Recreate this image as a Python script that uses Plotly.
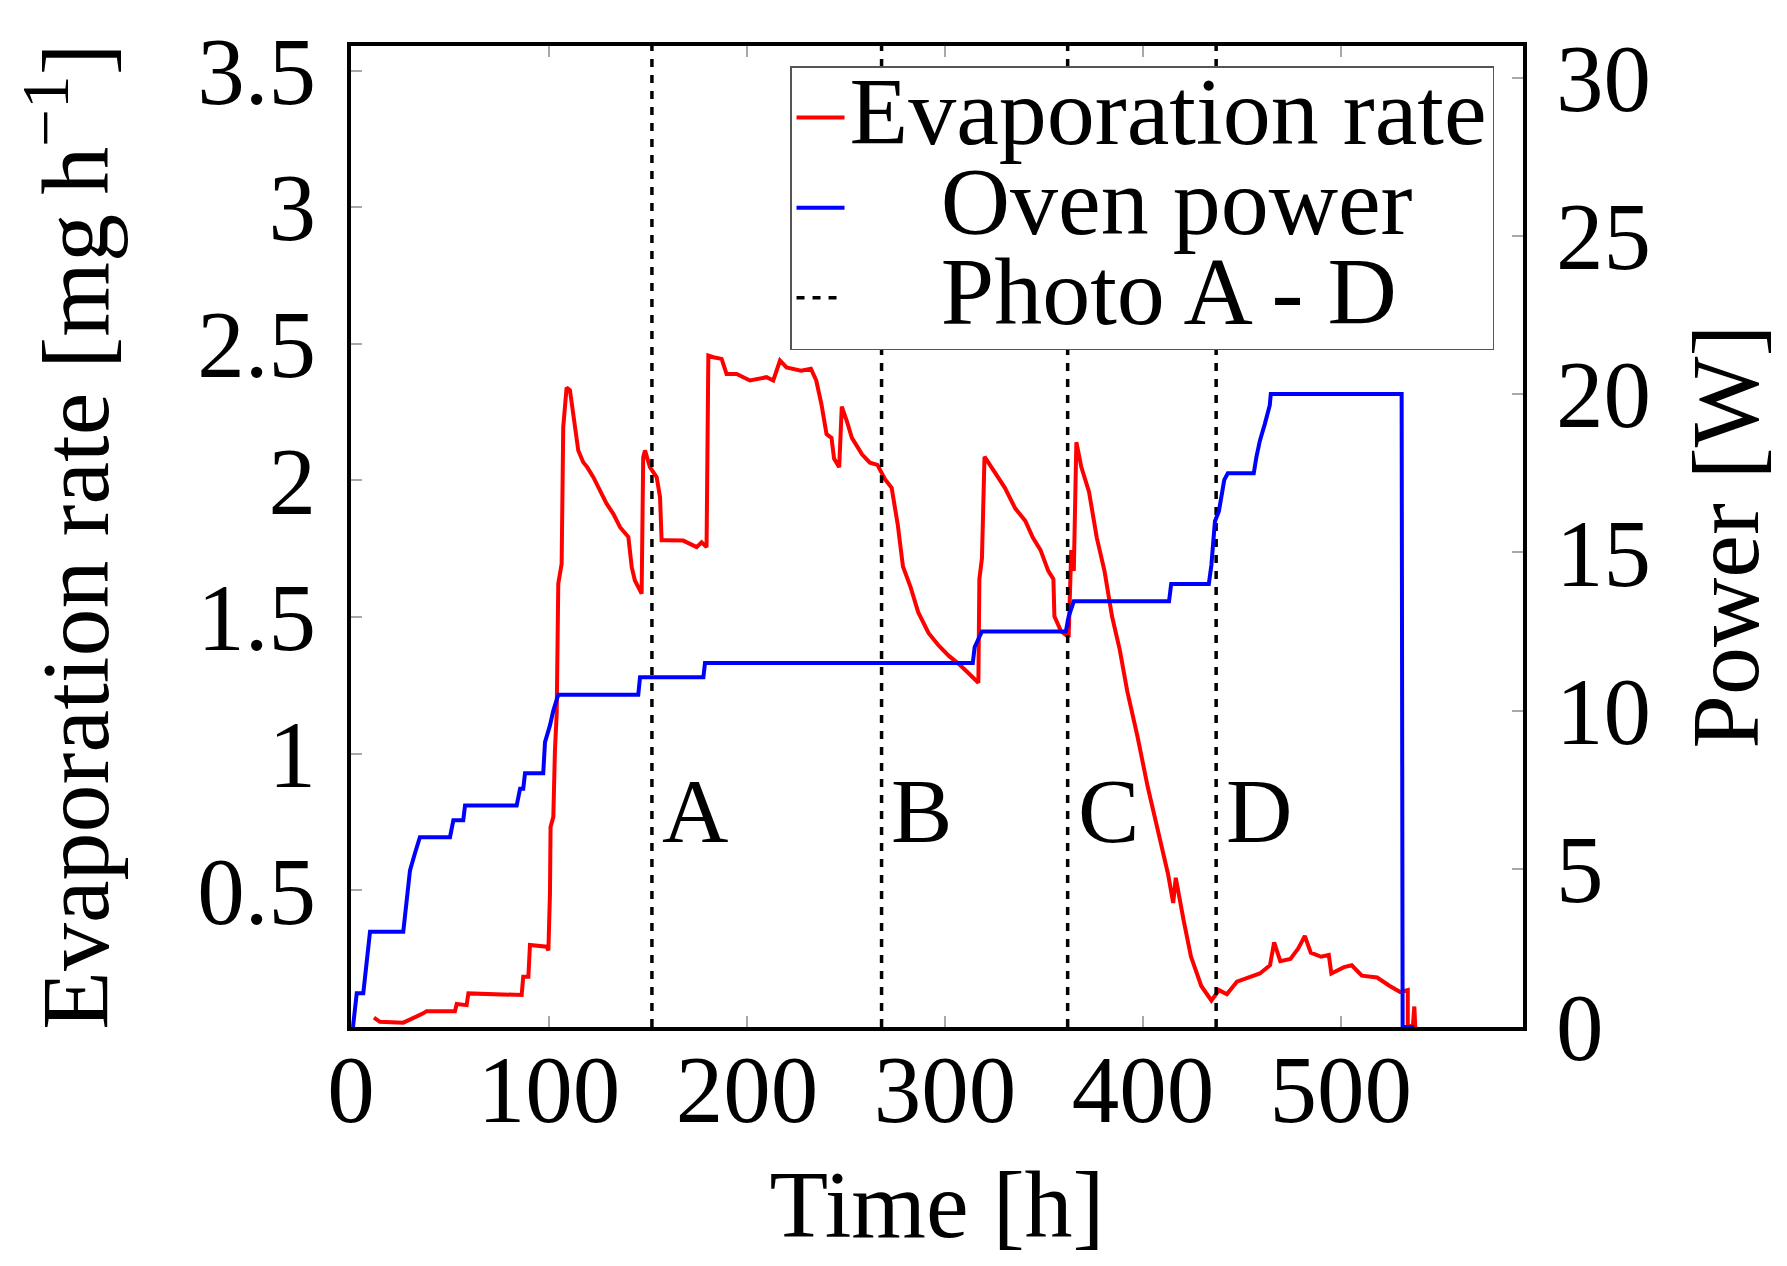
import plotly.graph_objects as go

# ---------------- data ----------------
power_t = [1.0, 2.9, 6.2, 7.9, 9.6, 26.4, 27.3, 28.1, 29.8, 32.3, 34.8, 50.0, 51.7, 56.7, 57.6,
           83.7, 85.4, 87.0, 87.9, 97.1, 98.0, 100.5, 102.2, 104.7, 145.1, 146.0, 178.0, 178.8,
           314.1, 315.0, 318.7, 361.1, 362.5, 365.1, 413.2, 414.3, 433.3, 434.6, 436.4, 438.4,
           441.1, 442.9, 456.0, 457.3, 459.1, 461.6, 464.1, 464.6, 530.7, 531.2, 537.0]
power_w = [0.0, 1.07, 1.07, 2.01, 3.01, 3.01, 3.53, 4.0, 4.95, 5.49, 6.0, 6.0, 6.53, 6.53, 7.0,
           7.0, 7.53, 7.53, 8.02, 8.02, 9.0, 9.53, 10.0, 10.5, 10.5, 11.05, 11.05, 11.5,
           11.5, 12.0, 12.5, 12.5, 12.97, 13.45, 13.45, 14.0, 14.0, 14.6, 15.98, 16.3,
           17.29, 17.5, 17.5, 18.0, 18.53, 19.06, 19.65, 20.0, 20.0, 0.0, 0.0]

evap_t = [11.6, 14.6, 26.4, 31.5, 36.5, 38.2, 52.5, 53.4, 58.4, 59.3, 86.2, 87.0, 89.6, 90.4,
          98.8, 99.7, 100.5, 100.8, 102.2, 103.0, 103.9, 104.7, 106.4, 107.2, 108.9, 110.6,
          112.3, 114.8, 117.3, 119.3, 122.4, 125.8, 129.1, 132.5, 135.9, 140.1, 141.8, 143.4,
          146.8, 147.6, 148.5, 151.0, 154.4, 156.1, 156.9, 159.4, 167.8, 174.6, 177.1, 179.6,
          180.5, 183.0, 187.2, 189.7, 194.8, 201.5, 209.9, 213.3, 216.7, 220.0, 227.3, 232.3,
          235.0, 237.6, 240.2, 242.7, 244.0, 246.6, 247.9, 250.5, 253.0, 258.2, 262.1, 265.9,
          269.8, 273.1, 276.2, 278.8, 282.7, 286.5, 291.7, 296.8, 302.0, 307.1, 312.3, 316.9,
          317.4, 318.7, 320.0, 325.2, 330.3, 335.5, 340.6, 344.4, 348.3, 352.2, 354.8, 355.3,
          358.6, 362.5, 363.8, 365.1, 366.4, 368.9, 372.8, 376.7, 380.6, 384.4, 388.3, 392.1,
          397.3, 402.4, 407.6, 412.7, 415.3, 416.6, 420.5, 424.3, 429.5, 434.6, 438.5, 442.4,
          447.5, 453.9, 459.1, 464.2, 466.3, 469.4, 474.5, 478.4, 481.8, 484.8, 490.0, 493.9,
          495.2, 501.6, 505.5, 510.6, 518.3, 524.7, 530.0, 533.8, 533.8, 536.4, 537.1, 537.6]
evap_rate = [0.034, 0.019, 0.016, 0.032, 0.05, 0.058, 0.058, 0.084, 0.08, 0.123, 0.117, 0.184, 0.184, 0.30,
             0.294, 0.28, 0.489, 0.732, 0.769, 1.01, 1.147, 1.622, 1.695, 2.195, 2.34, 2.33,
             2.23, 2.11, 2.067, 2.049, 2.012, 1.963, 1.915, 1.878, 1.829, 1.793, 1.683, 1.634,
             1.586, 2.085, 2.11, 2.049, 2.012, 1.939, 1.781, 1.781, 1.78, 1.756, 1.774, 1.756,
             2.457, 2.451, 2.445, 2.39, 2.39, 2.366, 2.378, 2.366, 2.439, 2.414, 2.402, 2.409,
             2.366, 2.28, 2.17, 2.156, 2.08, 2.049, 2.27, 2.216, 2.156, 2.095, 2.065, 2.057,
             2.004, 1.973, 1.837, 1.685, 1.609, 1.518, 1.442, 1.396, 1.358, 1.328, 1.29, 1.26,
             1.639, 1.715, 2.087, 2.027, 1.973, 1.898, 1.852, 1.791, 1.745, 1.669, 1.639, 1.503,
             1.449, 1.427, 1.745, 1.669, 2.14, 2.049, 1.958, 1.791, 1.669, 1.503, 1.381, 1.229,
             1.062, 0.88, 0.713, 0.56, 0.454, 0.546, 0.393, 0.257, 0.15, 0.097, 0.135, 0.12,
             0.166, 0.181, 0.196, 0.226, 0.31, 0.241, 0.249, 0.287, 0.333, 0.272, 0.257, 0.264,
             0.196, 0.219, 0.226, 0.188, 0.181, 0.15, 0.128, 0.135, 0.0, 0.006, 0.075, 0.0]

photo_times = [152, 268, 362, 437]
photo_labels = ["A", "B", "C", "D"]

x_ticks = [0, 100, 200, 300, 400, 500]
y_ticks = [0.5, 1, 1.5, 2, 2.5, 3, 3.5]
y2_ticks = [0, 5, 10, 15, 20, 25, 30]

X_MAX = 592
Y_MAX = 3.59
Y2_MAX = 31.0

# ---------------- figure ----------------
FONT = "Liberation Serif"
BIG = 92
TITLE = 96
TICK = 95
LEG = 96

def leg(name):
    return '<span style="font-size:%dpx">%s</span>' % (LEG, name)

PAD = "\u00a0\u00a0\u00a0\u2009"

fig = go.Figure()

fig.add_trace(go.Scatter(x=evap_t, y=evap_rate, mode="lines", name=leg("Evaporation rate"),
                         line=dict(color="#ff0000", width=4), yaxis="y"))
fig.add_trace(go.Scatter(x=power_t, y=power_w, mode="lines",
                         name=leg(PAD + "Oven power"),
                         line=dict(color="#0000ff", width=4), yaxis="y2"))

vx, vy = [], []
for t in photo_times:
    vx += [t, t, None]
    vy += [0, Y_MAX, None]
fig.add_trace(go.Scatter(x=vx, y=vy, mode="lines", name=leg(PAD + "Photo A - D"),
                         line=dict(color="black", width=3.5, dash="8px,8px"), yaxis="y"))

for t, lab in zip(photo_times, photo_labels):
    fig.add_annotation(x=t + 4, y=0.79, xref="x", yref="y", text=lab, showarrow=False,
                       xanchor="left", yanchor="middle",
                       font=dict(family=FONT, size=BIG, color="black"))

axis_common = dict(showline=True, linecolor="black", linewidth=4, ticks="inside",
                   ticklen=11, tickwidth=1.5, tickcolor="#a8a8a8", showgrid=False,
                   zeroline=False, tickfont=dict(family=FONT, size=TICK, color="black"))

# page body has an 8px margin: shrink figure so the page fits the window exactly
W, H = 1771, 1250
ML, MT = 343, 38
PW, PH = 1172, 981

fig.update_layout(
    width=W, height=H,
    margin=dict(l=ML, r=W - ML - PW, t=MT, b=H - MT - PH, autoexpand=False),
    paper_bgcolor="white", plot_bgcolor="white",
    font=dict(family=FONT, color="black"),
    xaxis=dict(range=[0, X_MAX], tickvals=x_ticks, mirror="ticks",
               title=dict(text="Time [h]", font=dict(family=FONT, size=TITLE), standoff=64),
               ticklabelstandoff=-23, **axis_common),
    yaxis=dict(range=[0, Y_MAX], tickvals=y_ticks, ticktext=[str(v) for v in y_ticks],
               title=dict(text="Evaporation rate [mg\u2009h<sup>\u22121</sup>]",
                          font=dict(family=FONT, size=TITLE), standoff=62),
               ticklabelstandoff=12, **axis_common),
    yaxis2=dict(range=[0, Y2_MAX], tickvals=y2_ticks, overlaying="y", side="right",
                title=dict(text="Power [W]", font=dict(family=FONT, size=TITLE), standoff=80),
                ticklabelstandoff=10, **axis_common),
    legend=dict(x=0.3746, y=0.9796, xanchor="left", yanchor="top",
                bgcolor="white", bordercolor="#555555", borderwidth=1.5,
                font=dict(family=FONT, size=67, color="black"),
                itemwidth=48, traceorder="normal"),
    showlegend=True,
)

fig.write_html("out.html")
